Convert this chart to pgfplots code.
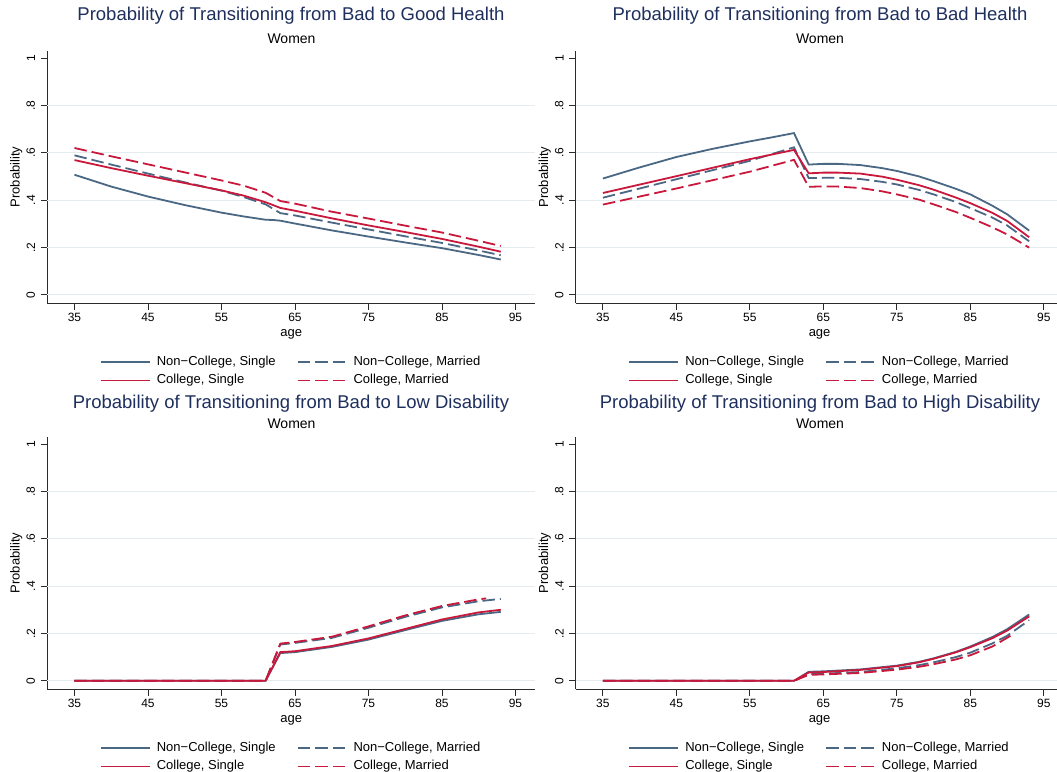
\documentclass[border=0pt]{standalone}
\usepackage{fontspec}
\setmainfont{Liberation Sans}
\usepackage{pgfplots}
\pgfplotsset{compat=1.18}

\definecolor{ncol}{HTML}{4A6784}
\definecolor{ccol}{HTML}{C8183C}
\definecolor{ttl}{HTML}{1E2F5E}
\definecolor{grd}{HTML}{E4ECEF}
\definecolor{axc}{HTML}{2B2B2B}

\pgfplotsset{
  panel/.style={
    scale only axis, width=487.8bp, height=252.5bp,
    xmin=31.3, xmax=97.67, ymin=-0.0355, ymax=1.031,
    axis lines=left, axis line style={-, axc, line width=0.9bp},
    tick align=outside, major tick length=6.5bp,
    tick style={axc, line width=0.9bp},
    xtick={35,45,55,65,75,85,95},
    xticklabels={35,45,55,65,75,85,95},
    ytick={0,0.2,0.4,0.6,0.8,1},
    yticklabels={0,.2,.4,.6,.8,1},
    extra y ticks={0,0.2,0.4,0.6,0.8},
    extra y tick labels={},
    extra y tick style={ymajorgrids=true, major tick length=0pt},
    major grid style={grd, line width=0.9bp},
    /pgf/number format/assume math mode=true,
    ticklabel style={font=\fontsize{12bp}{14bp}\selectfont, text=black},
    yticklabel style={rotate=90, anchor=south, inner xsep=0pt, inner ysep=5.5bp},
    xticklabel style={inner sep=0pt, anchor=north, yshift=-3bp},
    xlabel={age}, ylabel={Probability},
    label style={font=\fontsize{13bp}{15bp}\selectfont},
    xlabel style={at={(axis description cs:0.5,-0.1229)}, anchor=center},
    ylabel style={at={(axis description cs:-0.0636,0.5)}, anchor=center},
    legend columns=2,
    legend cell align=left,
    legend image code/.code={\draw[##1] (0bp,0bp) -- (49bp,0bp);},
    legend style={at={(0.5,0)}, anchor=center, yshift=-68bp,
      draw=none, fill=none, font=\fontsize{13bp}{15bp}\selectfont,
      row sep=6bp, column sep=4bp,
      nodes={inner xsep=2bp, inner ysep=0pt, text height=9.5bp, text depth=3bp},
      /tikz/every even column/.append style={column sep=19bp}},
  },
  ns/.style={ncol, line width=1.8bp},
  nm/.style={ncol, line width=1.8bp, dash pattern=on 12.5bp off 5bp},
  cs/.style={ccol, line width=1.8bp},
  cm/.style={ccol, line width=1.8bp, dash pattern=on 12.5bp off 5bp},
}

\newcommand{\ttlfont}{\fontsize{18.5bp}{22bp}\selectfont}
\newcommand{\subfont}{\fontsize{14bp}{16bp}\selectfont}

\begin{document}
\begin{tikzpicture}
\path[use as bounding box] (0bp,0bp) rectangle (1057bp,772bp);

% ---- Bad -> Good health
\begin{axis}[panel, at={(47.3bp,468.8bp)}, anchor=south west]
\addplot[ns] coordinates {(35,.507)(40,.457)(45,.415)(50,.379)(55,.347)(58,.331)(61,.317)(62,.316)(63,.313)(65,.301)(70,.272)(75,.246)(80,.221)(85,.197)(90,.168)(93,.149)};
\addplot[nm] coordinates {(35,.589)(40,.550)(45,.512)(50,.475)(55,.440)(58,.413)(61,.382)(63,.345)(65,.335)(70,.305)(75,.276)(80,.247)(85,.219)(90,.187)(93,.167)};
\addplot[cs] coordinates {(35,.569)(40,.535)(45,.503)(50,.472)(55,.441)(58,.419)(61,.391)(63,.367)(65,.355)(70,.323)(75,.293)(80,.265)(85,.236)(90,.203)(93,.182)};
\addplot[cm] coordinates {(35,.620)(40,.585)(45,.551)(50,.517)(55,.483)(58,.461)(61,.431)(63,.396)(65,.385)(70,.351)(75,.322)(80,.292)(85,.263)(90,.228)(93,.206)};
\legend{{Non−College, Single},{Non−College, Married},{College, Single},{College, Married}}
\end{axis}

% ---- Bad -> Bad health
\begin{axis}[panel, at={(575.7bp,468.8bp)}, anchor=south west]
\addplot[ns] coordinates {(35,.491)(40,.538)(45,.582)(50,.617)(55,.648)(58,.665)(61,.683)(63,.550)(65,.553)(67,.553)(70,.548)(73,.535)(75,.523)(78,.500)(80,.480)(83,.448)(85,.424)(88,.376)(90,.340)(93,.271)};
\addplot[nm] coordinates {(35,.410)(45,.488)(55,.566)(61,.623)(63,.493)(65,.494)(67,.494)(70,.489)(73,.477)(75,.466)(78,.443)(80,.424)(83,.392)(85,.366)(88,.326)(90,.293)(93,.226)};
\addplot[cs] coordinates {(35,.430)(45,.501)(55,.573)(61,.612)(63,.513)(65,.516)(67,.516)(70,.512)(73,.499)(75,.486)(78,.463)(80,.444)(83,.411)(85,.387)(88,.346)(90,.312)(93,.243)};
\addplot[cm] coordinates {(35,.381)(45,.449)(55,.520)(61,.570)(63,.456)(65,.458)(67,.457)(70,.451)(73,.437)(75,.424)(78,.402)(80,.382)(83,.350)(85,.325)(88,.285)(90,.255)(93,.199)};
\legend{{Non−College, Single},{Non−College, Married},{College, Single},{College, Married}}
\end{axis}

% ---- Bad -> Low disability
\begin{axis}[panel, at={(47.3bp,82.8bp)}, anchor=south west]
\addplot[ns] coordinates {(35,0)(61,0)(63,.117)(65,.121)(70,.143)(75,.174)(80,.214)(85,.253)(90,.281)(93,.291)};
\addplot[nm] coordinates {(35,0)(61,0)(63,.153)(65,.160)(70,.181)(75,.224)(80,.270)(85,.310)(90,.336)(93,.346)};
\addplot[cs] coordinates {(35,0)(61,0)(63,.121)(65,.125)(70,.147)(75,.179)(80,.219)(85,.259)(90,.289)(93,.300)};
\addplot[cm] coordinates {(35,0)(61,0)(63,.157)(65,.164)(70,.186)(75,.230)(80,.276)(85,.316)(90,.344)(91,.348)};
\legend{{Non−College, Single},{Non−College, Married},{College, Single},{College, Married}}
\end{axis}

% ---- Bad -> High disability
\begin{axis}[panel, at={(575.7bp,82.8bp)}, anchor=south west]
\addplot[ns] coordinates {(35,0)(61,0)(63,.038)(65,.040)(70,.048)(75,.064)(78,.080)(80,.095)(83,.122)(85,.145)(88,.185)(90,.218)(93,.280)};
\addplot[nm] coordinates {(35,0)(61,0)(63,.028)(65,.030)(70,.037)(75,.053)(78,.066)(80,.078)(83,.100)(85,.119)(88,.158)(90,.190)(93,.256)};
\addplot[cs] coordinates {(35,0)(61,0)(63,.035)(65,.037)(70,.046)(75,.062)(78,.078)(80,.093)(83,.120)(85,.142)(88,.180)(90,.212)(93,.272)};
\addplot[cm] coordinates {(35,0)(61,0)(63,.025)(65,.027)(70,.033)(75,.047)(78,.059)(80,.070)(83,.090)(85,.108)(88,.145)(91,.200)};
\legend{{Non−College, Single},{Non−College, Married},{College, Single},{College, Married}}
\end{axis}

% titles
\node[text=ttl, font=\ttlfont] at (291bp,756.3bp) {Probability of Transitioning from Bad to Good Health};
\node[font=\subfont] at (291.5bp,733.5bp) {Women};
\node[text=ttl, font=\ttlfont] at (820bp,756.3bp) {Probability of Transitioning from Bad to Bad Health};
\node[font=\subfont] at (820bp,733.5bp) {Women};
\node[text=ttl, font=\ttlfont] at (291bp,368.3bp) {Probability of Transitioning from Bad to Low Disability};
\node[font=\subfont] at (291.5bp,347.8bp) {Women};
\node[text=ttl, font=\ttlfont] at (820bp,368.3bp) {Probability of Transitioning from Bad to High Disability};
\node[font=\subfont] at (820bp,347.8bp) {Women};
\end{tikzpicture}
\end{document}
